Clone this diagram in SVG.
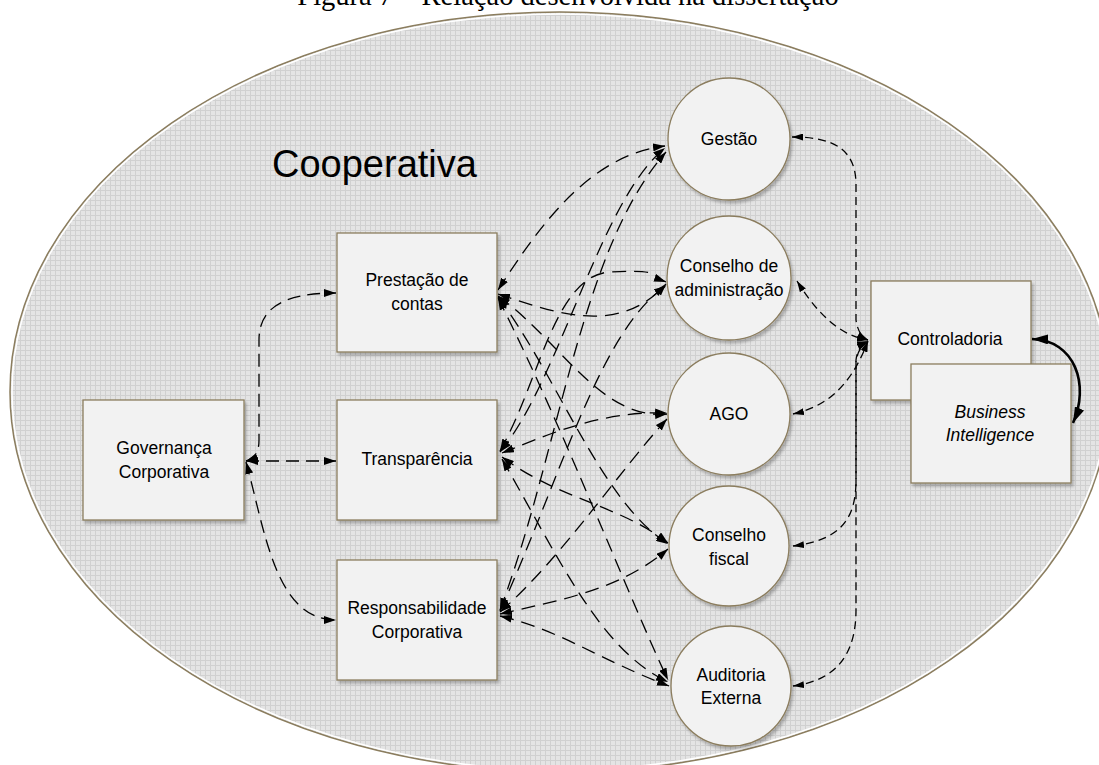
<svg xmlns="http://www.w3.org/2000/svg" width="1099" height="765" viewBox="0 0 1099 765">
  <defs>
    <pattern id="grid" width="5" height="5" patternUnits="userSpaceOnUse">
      <rect width="5" height="5" fill="#e4e4e4"/>
      <path d="M0 0.5H5M0.5 0V5" stroke="#d0d0d0" stroke-width="1"/>
    </pattern>
    <filter id="shadow" x="-10%" y="-10%" width="125%" height="125%">
      <feDropShadow dx="2" dy="3" stdDeviation="1.5" flood-color="#000" flood-opacity="0.25"/>
    </filter>
    <marker id="arr" viewBox="0 0 12 8" refX="12" refY="4" markerWidth="12" markerHeight="8" markerUnits="userSpaceOnUse" orient="auto-start-reverse">
      <path d="M0 0L12 4L0 8z" fill="#000"/>
    </marker>
    <marker id="arrS" viewBox="0 0 11 7" refX="11" refY="3.5" markerWidth="11" markerHeight="7" markerUnits="userSpaceOnUse" orient="auto-start-reverse">
      <path d="M0 0L11 3.5L0 7z" fill="#000"/>
    </marker>
    <marker id="arrB" viewBox="0 0 16 10" refX="16" refY="5" markerWidth="16" markerHeight="10" markerUnits="userSpaceOnUse" orient="auto-start-reverse">
      <path d="M0 0L16 5L0 10z" fill="#000"/>
    </marker>
  </defs>
  <style>
    .caption { font-family: "Liberation Serif", serif; font-size: 28.5px; fill: #000; }
    .big { font-family: "Liberation Sans", Arial, sans-serif; font-size: 38px; fill: #000; }
    .lbl { font-family: "Liberation Sans", Arial, sans-serif; font-size: 17.5px; fill: #000; text-anchor: middle; }
    .it { font-style: italic; }
    .node { fill: #f2f2f2; stroke: #8b7d5e; stroke-width: 1.3; filter: url(#shadow); }
    .gov { fill: none; stroke: #000; stroke-width: 1.3; stroke-dasharray: 13 7; marker-start: url(#arr); marker-end: url(#arr); }
    .rel { fill: none; stroke: #000; stroke-width: 1.3; stroke-dasharray: 14 8; marker-start: url(#arr); marker-end: url(#arr); }
    .ctl { fill: none; stroke: #000; stroke-width: 1.3; stroke-dasharray: 8 5; marker-start: url(#arrS); marker-end: url(#arrS); }
    .bold { fill: none; stroke: #000; stroke-width: 2.6; marker-start: url(#arrB); marker-end: url(#arrB); }
  </style>

  <rect width="1099" height="765" fill="#fff"/>
  <text class="caption" x="568" y="5" text-anchor="middle">Figura 7 – Relação desenvolvida na dissertação</text>

  <!-- cooperative boundary -->
  <g id="cooperativa">
    <ellipse cx="560" cy="392" rx="550" ry="380" fill="url(#grid)" stroke="#8b7d5e" stroke-width="1.5"/>
    <ellipse cx="560" cy="392" rx="548" ry="378" fill="none" stroke="#fff" stroke-width="1.5"/>
    <text class="big" x="272" y="177">Cooperativa</text>
  </g>

  <!-- connectors -->
  <g id="connectors">
    <!-- governance to the three pillars -->
    <path class="gov" d="M246,461 C255,458 259,452 259,440 L259,340 C259,310 280,293 336,293"/>
    <path class="gov" d="M246,461 L336,461"/>
    <path class="gov" d="M246,462 C265,530 275,620 336,620"/>

    <!-- Prestação de contas to bodies -->
    <path class="rel" d="M498,290 C540,225 590,155 665,146"/>
    <path class="rel" d="M498,294 C560,315 620,335 666,284"/>
    <path class="rel" d="M498,296 C560,340 600,420 667,414"/>
    <path class="rel" d="M498,297 C560,380 600,500 668,544"/>
    <path class="rel" d="M498,298 C560,420 630,600 668,680"/>

    <!-- Transparência to bodies -->
    <path class="rel" d="M500,452 C560,380 600,200 665,148"/>
    <path class="rel" d="M500,451 C540,380 555,275 610,272 S650,276 666,282"/>
    <path class="rel" d="M502,453 C540,438 600,410 667,413"/>
    <path class="rel" d="M502,457 C560,500 620,505 668,543"/>
    <path class="rel" d="M502,459 C560,560 600,650 668,682"/>

    <!-- Responsabilidade corporativa to bodies -->
    <path class="rel" d="M500,610 C560,450 580,250 666,152"/>
    <path class="rel" d="M500,611 C560,480 600,330 666,286"/>
    <path class="rel" d="M500,612 C560,560 620,470 667,419"/>
    <path class="rel" d="M500,614 C560,600 620,590 668,549"/>
    <path class="rel" d="M500,616 C560,630 600,660 669,686"/>

    <!-- Controladoria to bodies -->
    <path class="ctl" d="M792,137 C835,137 856,150 856,185 L856,320 Q858,335 868,340"/>
    <path class="ctl" d="M797,281 C812,305 835,335 868,340"/>
    <path class="ctl" d="M793,414 C835,405 855,375 868,341"/>
    <path class="ctl" d="M793,546 C840,540 856,520 856,480 L856,360 Q858,345 868,341"/>
    <path class="ctl" d="M793,686 C840,680 856,650 856,610 L856,362 Q858,347 868,342"/>

    <!-- Controladoria to Business Intelligence -->
    <path class="bold" d="M1032,339 C1075,340 1090,385 1073,423"/>
  </g>

  <!-- pillars -->
  <g id="governanca">
    <rect class="node" x="83" y="400" width="161" height="120"/>
    <text class="lbl" x="164" y="454">Governança</text>
    <text class="lbl" x="164" y="478">Corporativa</text>
  </g>
  <g id="prestacao">
    <rect class="node" x="337" y="233" width="160" height="119"/>
    <text class="lbl" x="417" y="286">Prestação de</text>
    <text class="lbl" x="417" y="310">contas</text>
  </g>
  <g id="transparencia">
    <rect class="node" x="337" y="400" width="160" height="120"/>
    <text class="lbl" x="417" y="465">Transparência</text>
  </g>
  <g id="responsabilidade">
    <rect class="node" x="337" y="560" width="160" height="120"/>
    <text class="lbl" x="417" y="614">Responsabilidade</text>
    <text class="lbl" x="417" y="638">Corporativa</text>
  </g>

  <!-- bodies -->
  <g id="gestao">
    <circle class="node" cx="729" cy="139" r="61"/>
    <text class="lbl" x="729" y="145">Gestão</text>
  </g>
  <g id="conselho-admin">
    <circle class="node" cx="729" cy="278" r="62"/>
    <text class="lbl" x="729" y="272">Conselho de</text>
    <text class="lbl" x="729" y="296">administração</text>
  </g>
  <g id="ago">
    <circle class="node" cx="729" cy="414" r="61"/>
    <text class="lbl" x="729" y="420">AGO</text>
  </g>
  <g id="conselho-fiscal">
    <circle class="node" cx="729" cy="546" r="60"/>
    <text class="lbl" x="729" y="541">Conselho</text>
    <text class="lbl" x="729" y="565">fiscal</text>
  </g>
  <g id="auditoria">
    <circle class="node" cx="731" cy="686" r="60"/>
    <text class="lbl" x="731" y="681">Auditoria</text>
    <text class="lbl" x="731" y="704">Externa</text>
  </g>

  <!-- control and BI -->
  <g id="controladoria">
    <rect class="node" x="871" y="281" width="160" height="119"/>
    <text class="lbl" x="950" y="345">Controladoria</text>
  </g>
  <g id="business-intelligence">
    <rect class="node" x="911" y="364" width="160" height="119"/>
    <text class="lbl it" x="990" y="418">Business</text>
    <text class="lbl it" x="990" y="441">Intelligence</text>
  </g>
</svg>
